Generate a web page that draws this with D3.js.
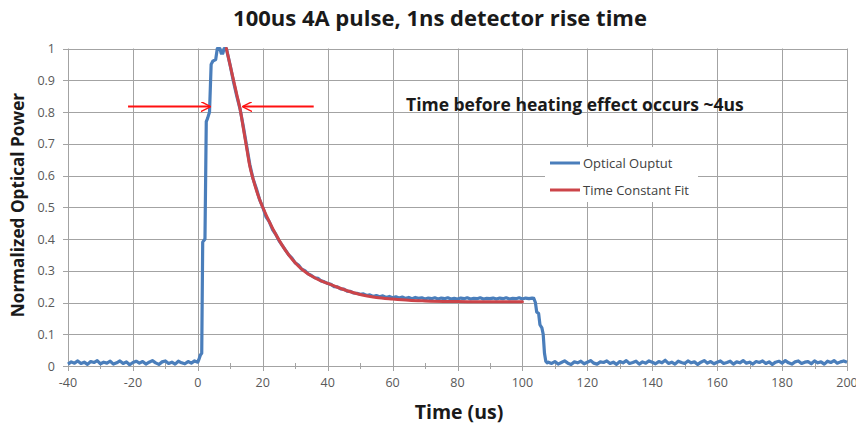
<!DOCTYPE html>
<html>
<head>
<meta charset="utf-8">
<script src="https://cdn.jsdelivr.net/npm/d3@7"></script>
<style>
  body { margin: 0; background: #fff; }
  svg { display: block; font-family: "Open Sans", "DejaVu Sans", sans-serif; }
</style>
</head>
<body>
<svg id="chart" width="856" height="425"></svg>
<script>
// tick values
var xTicks = [-40, -20, 0, 20, 40, 60, 80, 100, 120, 140, 160, 180, 200];
var xMinorTicks = [-30, -10, 10, 30, 50, 70, 90, 110, 130, 150, 170, 190];
var yTicks = [0, 0.1, 0.2, 0.3, 0.4, 0.5, 0.6, 0.7, 0.8, 0.9, 1];

// Optical output: baseline before the pulse, one sample per us from -40
var baselineBefore = [0.006,0.013,0.009,0.016,0.008,0.012,0.005,0.014,0.011,0.017,
  0.007,0.012,0.009,0.015,0.006,0.010,0.016,0.008,0.013,0.004,
  0.011,0.015,0.009,0.014,0.006,0.012,0.017,0.010,0.005,0.013,
  0.016,0.008,0.012,0.006,0.015,0.010,0.007,0.014,0.009,0.016,0.012];

// rising edge
var riseTime  = [0.3, 0.8, 1.2, 1.5, 2.2, 2.6, 3.0, 3.6, 4.1, 4.6, 5.5, 6.0, 6.8, 7.2, 7.7, 8.1, 8.8];
var riseValue = [0.02, 0.035, 0.04, 0.39, 0.40, 0.77, 0.78, 0.80, 0.95, 0.96, 0.965, 1.0, 1.0, 0.985, 0.985, 1.0, 1.0];

// decay, one sample per us from 9 to 103
var decayValues = [0.99,0.945,0.895,0.85,0.81,0.755,0.695,0.635,0.59,0.56,
  0.525,0.5,0.47,0.455,0.43,0.415,0.395,0.38,0.365,0.35,
  0.34,0.325,0.318,0.305,0.3,0.29,0.285,0.278,0.276,0.268,
  0.265,0.26,0.257,0.25,0.249,0.243,0.242,0.236,0.235,0.23,
  0.229,0.226,0.227,0.222,0.224,0.219,0.222,0.218,0.221,0.216,
  0.219,0.215,0.218,0.214,0.217,0.213,0.216,0.212,0.216,0.213,
  0.215,0.211,0.214,0.212,0.215,0.211,0.214,0.212,0.215,0.211,
  0.213,0.211,0.214,0.212,0.215,0.211,0.213,0.212,0.215,0.211,
  0.213,0.212,0.214,0.211,0.214,0.212,0.215,0.211,0.213,0.212,
  0.215,0.211,0.214,0.212,0.214];

// falling edge
var fallTime  = [103.5, 104, 104.4, 105, 105.4, 106, 106.4, 106.8, 107.2, 107.6];
var fallValue = [0.213, 0.2, 0.17, 0.165, 0.13, 0.12, 0.1, 0.04, 0.015, 0.01];

// baseline after the pulse, one sample per us from 108
var baselineAfter = [0.012,0.008,0.014,0.006,0.011,0.016,0.009,0.005,0.013,0.010,
  0.015,0.007,0.012,0.017,0.009,0.006,0.013,0.011,0.016,0.008,
  0.012,0.005,0.014,0.010,0.017,0.008,0.011,0.015,0.006,0.013,
  0.009,0.016,0.012,0.007,0.014,0.010,0.018,0.008,0.012,0.006,
  0.015,0.011,0.008,0.016,0.010,0.013,0.005,0.012,0.017,0.009,
  0.014,0.007,0.012,0.016,0.008,0.011,0.015,0.006,0.013,0.010,
  0.017,0.009,0.012,0.006,0.014,0.011,0.016,0.008,0.013,0.005,
  0.012,0.015,0.009,0.017,0.010,0.006,0.013,0.016,0.008,0.012,
  0.014,0.007,0.016,0.010,0.013,0.006,0.015,0.011,0.017,0.009,
  0.013,0.016,0.012];

// time constant fit
var fitTime  = [8.8, 10, 11, 12, 13, 14, 15, 16, 17, 18, 19, 20, 22, 24, 26, 28, 30, 32, 34, 36, 38, 40, 43, 46, 50, 55, 60, 65, 70, 80, 90, 100];
var fitValue = [1.0, 0.945, 0.9, 0.855, 0.81, 0.75, 0.69, 0.63, 0.59, 0.555, 0.525, 0.5, 0.455, 0.415, 0.38, 0.35, 0.325, 0.305, 0.29, 0.278, 0.268, 0.26, 0.248, 0.237, 0.225, 0.216, 0.211, 0.207, 0.205, 0.203, 0.202, 0.202];

// annotation arrows (time from -> to, at height)
var arrowFrom = [-21.5, 35.7];
var arrowTo   = [3.7, 14];
var arrowLevel = 0.817;

var legendLabels = ["Optical Ouptut", "Time Constant Fit"];
var blue = "#4a7ebb", red = "#cc4449";

// build series
var output = [];
baselineBefore.forEach((v, i) => output.push({t: -40 + i, v: v}));
riseTime.forEach((t, i) => output.push({t: t, v: riseValue[i]}));
decayValues.forEach((v, i) => output.push({t: 9 + i, v: v}));
fallTime.forEach((t, i) => output.push({t: t, v: fallValue[i]}));
baselineAfter.forEach((v, i) => output.push({t: 108 + i, v: v}));
var fit = fitTime.map((t, i) => ({t: t, v: fitValue[i]}));

var svg = d3.select("#chart");
var x = d3.scaleLinear().domain([-40, 200]).range([68, 847]);
var y = d3.scaleLinear().domain([0, 1]).range([366, 48.5]);
var grid = "#a3a3a3";

// gridlines
svg.append("g").selectAll("line.hgrid").data(yTicks)
  .join("line").attr("class", "hgrid")
    .attr("x1", x(-40) - 5).attr("x2", x(200))
    .attr("y1", d => Math.round(y(d)) + 0.5).attr("y2", d => Math.round(y(d)) + 0.5)
    .attr("stroke", grid).attr("stroke-width", 1);

svg.append("g").selectAll("line.vgrid").data(xTicks)
  .join("line").attr("class", "vgrid")
    .attr("x1", d => Math.round(x(d)) + 0.5).attr("x2", d => Math.round(x(d)) + 0.5)
    .attr("y1", y(1)).attr("y2", y(0) + 5)
    .attr("stroke", grid).attr("stroke-width", 1);

svg.append("g").selectAll("line.minor").data(xMinorTicks)
  .join("line").attr("class", "minor")
    .attr("x1", d => Math.round(x(d)) + 0.5).attr("x2", d => Math.round(x(d)) + 0.5)
    .attr("y1", y(0) - 3).attr("y2", y(0) + 3)
    .attr("stroke", grid).attr("stroke-width", 1);

// tick labels
svg.append("g").selectAll("text").data(yTicks)
  .join("text")
    .attr("x", 55).attr("y", d => y(d) + 4.5)
    .attr("text-anchor", "end")
    .attr("fill", "#595959").style("font-size", "12.5px")
    .text(d => d3.format("")(d));

svg.append("g").selectAll("text").data(xTicks)
  .join("text")
    .attr("x", d => x(d)).attr("y", 387)
    .attr("text-anchor", "middle")
    .attr("fill", "#595959").style("font-size", "12.5px")
    .text(d => d);

// legend box (white, covers the grid)
var lg = svg.append("g").attr("transform", "translate(545,147)");
lg.append("rect").attr("width", 153).attr("height", 55).attr("fill", "#fff");
lg.selectAll("line").data(legendLabels)
  .join("line")
    .attr("x1", 5).attr("x2", 35)
    .attr("y1", (d, i) => 16 + i * 27).attr("y2", (d, i) => 16 + i * 27)
    .attr("stroke", (d, i) => i ? red : blue).attr("stroke-width", 3);
lg.selectAll("text").data(legendLabels)
  .join("text")
    .attr("x", 38).attr("y", (d, i) => 20.5 + i * 27)
    .attr("fill", "#404040").style("font-size", "13px")
    .text(d => d);

// series
var line = d3.line().x(d => x(d.t)).y(d => y(d.v));
svg.append("path").datum(output)
  .attr("d", line)
  .attr("fill", "none").attr("stroke", blue)
  .attr("stroke-width", 3.2).attr("stroke-linejoin", "round");

svg.append("path").datum(fit)
  .attr("d", d3.line().x(d => x(d.t)).y(d => y(d.v)).curve(d3.curveMonotoneX))
  .attr("fill", "none").attr("stroke", red)
  .attr("stroke-width", 3).attr("stroke-linecap", "round");

// arrows
svg.append("defs").append("marker")
  .attr("id", "head").attr("viewBox", "0 0 10 10")
  .attr("refX", 9).attr("refY", 5)
  .attr("markerWidth", 5).attr("markerHeight", 5)
  .attr("markerUnits", "strokeWidth")
  .attr("orient", "auto")
  .append("path").attr("d", "M0,0 L10,5 L0,10")
    .attr("fill", "none").attr("stroke", "#ff1010").attr("stroke-width", 1.4);

svg.append("g").selectAll("line").data(arrowFrom)
  .join("line")
    .attr("x1", d => x(d)).attr("x2", (d, i) => x(arrowTo[i]))
    .attr("y1", y(arrowLevel)).attr("y2", y(arrowLevel))
    .attr("stroke", "#ff1010").attr("stroke-width", 2)
    .attr("marker-end", "url(#head)");

// texts
svg.append("text")
  .attr("x", 406).attr("y", 111)
  .attr("fill", "#1a1a1a").style("font-size", "17.5px").style("font-weight", "bold")
  .text("Time before heating effect occurs ~4us");

svg.append("text")
  .attr("x", 440).attr("y", 26)
  .attr("text-anchor", "middle")
  .attr("fill", "#1a1a1a").style("font-size", "22px").style("font-weight", "bold")
  .text("100us 4A pulse, 1ns detector rise time");

svg.append("text")
  .attr("x", 459).attr("y", 419)
  .attr("text-anchor", "middle")
  .attr("fill", "#1a1a1a").style("font-size", "19.5px").style("font-weight", "bold")
  .text("Time (us)");

svg.append("text")
  .attr("transform", "translate(24,205) rotate(-90)")
  .attr("text-anchor", "middle")
  .attr("fill", "#1a1a1a").style("font-size", "17.2px").style("font-weight", "bold")
  .text("Normalized Optical Power");
</script>
</body>
</html>
